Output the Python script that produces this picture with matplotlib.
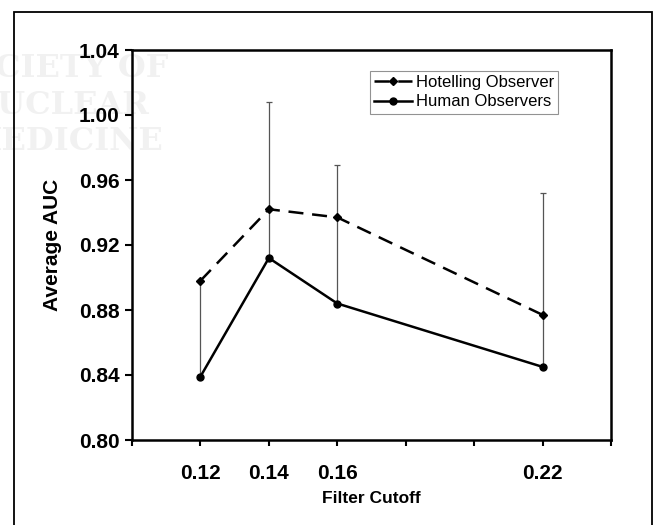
import matplotlib
matplotlib.use("Agg")
import matplotlib.pyplot as plt
from matplotlib.patches import Rectangle

# Data
cutoffs = [0.12, 0.14, 0.16, 0.22]
hotelling = [0.898, 0.942, 0.937, 0.877]
human = [0.839, 0.912, 0.884, 0.845]
human_err_up = [0.059, 0.096, 0.085, 0.107]
xtick_vals = [0.10, 0.12, 0.14, 0.16, 0.18, 0.20, 0.22, 0.24]
xtick_labels = ["", "0.12", "0.14", "0.16", "", "", "0.22", ""]
ytick_vals = [0.80, 0.84, 0.88, 0.92, 0.96, 1.00, 1.04]
ytick_labels = ["0.80", "0.84", "0.88", "0.92", "0.96", "1.00", "1.04"]

plt.rcParams['font.family'] = ['Liberation Sans', 'DejaVu Sans']

W, H = 653, 525
fig = plt.figure(figsize=(W / 100, H / 100), dpi=100)

# faint watermark from the scanned source (drawn beneath everything)
wm_kw = dict(family='DejaVu Serif', fontweight='bold', fontsize=23,
             color='#f1f1f1', ha='right', va='baseline', zorder=-5)
fig.text(168 / W, 1 - 77 / H, "SOCIETY OF", **wm_kw)
fig.text(150 / W, 1 - 114 / H, "NUCLEAR", **wm_kw)
fig.text(163 / W, 1 - 150 / H, "MEDICINE", **wm_kw)

# outer frame
fig.patches.append(Rectangle((14 / W, -0.05), (652 - 14) / W, 1.05 - 12 / H,
                             transform=fig.transFigure, fill=False,
                             edgecolor='black', linewidth=1.3))

ax = fig.add_axes([132 / W, 1 - 440 / H, (611 - 132) / W, (440 - 50) / H])
ax.patch.set_alpha(0)
ax.set_zorder(2)

ax.errorbar(cutoffs, human, yerr=[[0] * len(human), human_err_up], fmt='none',
            ecolor='#555555', elinewidth=0.9, capsize=2.5, capthick=0.9, zorder=1)
ax.plot(cutoffs, hotelling, linestyle=(0, (6, 3.5)), color='black', linewidth=1.8,
        marker='D', markersize=4.5, label='Hotelling Observer', zorder=3)
ax.plot(cutoffs, human, linestyle='-', color='black', linewidth=1.8,
        marker='o', markersize=5, label='Human Observers', zorder=3)

ax.set_xlim(0.10, 0.24)
ax.set_ylim(0.80, 1.04)
ax.set_xticks(xtick_vals)
ax.set_xticklabels(xtick_labels, fontsize=15, fontweight='bold')
ax.set_yticks(ytick_vals)
ax.set_yticklabels(ytick_labels, fontsize=15, fontweight='bold')
ax.tick_params(axis='y', direction='out', length=5, width=1.5, pad=4)
ax.tick_params(axis='x', direction='out', length=4, width=1.5, pad=13)
for s in ax.spines.values():
    s.set_linewidth(1.8)

ax.set_xlabel("Filter Cutoff", fontsize=12.5, fontweight='bold')
ax.xaxis.set_label_coords(0.5, -(491 - 440) / 390)
ax.set_ylabel("Average AUC", fontsize=15, fontweight='bold')
ax.yaxis.set_label_coords((52 - 132) / 479, 0.5)
ax.yaxis.label.set_va('center')

leg = ax.legend(loc='upper right', bbox_to_anchor=(558 / W, 1 - 71 / H),
                bbox_transform=fig.transFigure, fontsize=12, frameon=True,
                fancybox=False, edgecolor='#777777', handlelength=2.3,
                handletextpad=0.2, borderpad=0.25, labelspacing=0.25,
                borderaxespad=0)
leg.get_frame().set_linewidth(0.8)

fig.savefig("out.png", dpi=100)
